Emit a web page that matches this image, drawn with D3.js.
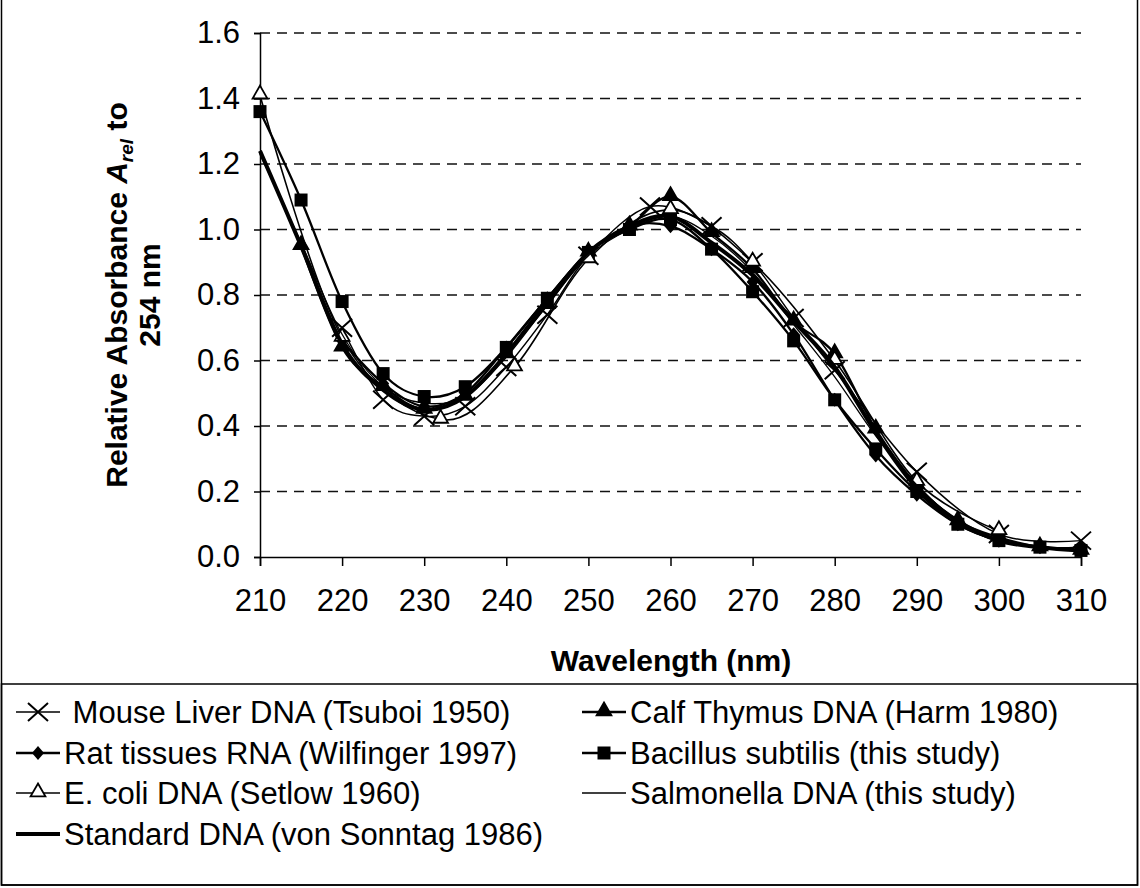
<!DOCTYPE html>
<html>
<head>
<meta charset="utf-8">
<script src="https://cdn.jsdelivr.net/npm/d3@7"></script>
<style>
body { margin: 0; background: #fff; }
text { font-family: "Liberation Sans", Arial, sans-serif; fill: #000; }
.tick-lab { font-size: 31px; }
.title { font-size: 30px; font-weight: bold; }
.leg { font-size: 31px; }
</style>
</head>
<body>
<div id="c"></div>
<script>
// wavelength ticks and y ticks
var x_ticks = [210, 220, 230, 240, 250, 260, 270, 280, 290, 300, 310];
var y_ticks = [0, 0.2, 0.4, 0.6, 0.8, 1.0, 1.2, 1.4, 1.6];

var wl = [210, 215, 220, 225, 230, 235, 240, 245, 250, 255, 260, 265, 270, 275, 280, 285, 290, 295, 300, 305, 310];

var mouse_wl = [220, 225, 230, 235, 240, 245, 250, 257.5, 265, 270, 275, 280, 290, 300, 310];
var mouse_val = [0.70, 0.48, 0.43, 0.46, 0.58, 0.74, 0.92, 1.07, 1.01, 0.90, 0.73, 0.57, 0.26, 0.07, 0.05];

var calf_wl = [215, 220, 225, 230, 235, 240, 245, 250, 255, 260, 265, 270, 275, 280, 285, 290, 295, 300, 305, 310];
var calf_val = [0.95, 0.64, 0.52, 0.45, 0.49, 0.62, 0.77, 0.93, 1.01, 1.10, 0.99, 0.88, 0.72, 0.62, 0.39, 0.22, 0.11, 0.06, 0.03, 0.02];

var rat_wl = [220, 225, 230, 235, 240, 245, 250, 255, 260, 265, 270, 275, 280, 285, 290, 295, 300, 305, 310];
var rat_val = [0.66, 0.53, 0.46, 0.50, 0.64, 0.79, 0.93, 1.01, 1.01, 0.94, 0.84, 0.68, 0.48, 0.31, 0.19, 0.10, 0.05, 0.03, 0.02];

var bac_val = [1.36, 1.09, 0.78, 0.56, 0.49, 0.52, 0.64, 0.79, 0.93, 1.00, 1.03, 0.94, 0.81, 0.66, 0.48, 0.33, 0.20, 0.10, 0.05, 0.03, 0.02];

var ecoli_wl = [210, 220, 232, 241, 250, 260, 270, 280, 290, 300];
var ecoli_val = [1.41, 0.67, 0.42, 0.58, 0.91, 1.06, 0.90, 0.60, 0.23, 0.08];

var salm_val = [1.23, 0.96, 0.68, 0.52, 0.47, 0.49, 0.61, 0.77, 0.92, 1.00, 1.04, 0.98, 0.87, 0.71, 0.55, 0.37, 0.22, 0.11, 0.05, 0.03, 0.03];
var std_val = [1.24, 0.95, 0.65, 0.51, 0.45, 0.49, 0.62, 0.78, 0.93, 1.01, 1.04, 0.96, 0.86, 0.72, 0.58, 0.38, 0.21, 0.11, 0.05, 0.03, 0.02];

var series_names = [
	" Mouse Liver DNA (Tsuboi 1950)",
	"Calf Thymus DNA (Harm 1980)",
	"Rat tissues RNA (Wilfinger 1997)",
	"Bacillus subtilis (this study)",
	"E. coli DNA (Setlow 1960)",
	"Salmonella DNA (this study)",
	"Standard DNA (von Sonntag 1986)"
];

function zip(xs, ys) {
	return xs.map(function(x, i) { return {w: x, v: ys[i]}; });
}

var series = [
	{name: series_names[0], pts: zip(mouse_wl, mouse_val), mark: 'x', sw: 1.5},
	{name: series_names[1], pts: zip(calf_wl, calf_val), mark: 'tri', sw: 2.3},
	{name: series_names[2], pts: zip(rat_wl, rat_val), mark: 'dia', sw: 2.3},
	{name: series_names[3], pts: zip(wl, bac_val), mark: 'sq', sw: 2.3},
	{name: series_names[4], pts: zip(ecoli_wl, ecoli_val), mark: 'otri', sw: 1.6},
	{name: series_names[5], pts: zip(wl, salm_val), mark: 'none', sw: 1.3},
	{name: series_names[6], pts: zip(wl, std_val), mark: 'none', sw: 4}
];

var width = 1140;
var height = 888;

var svg = d3.select("#c").append("svg")
	.attr("width", width)
	.attr("height", height);

var x_scale = d3.scaleLinear()
	.domain([210, 310])
	.range([260, 1081]);

var y_scale = d3.scaleLinear()
	.domain([0, 1.6])
	.range([557, 33]);

// outer frame + legend box
svg.append("rect")
	.attr("x", 1.5).attr("y", -5)
	.attr("width", width - 4).attr("height", 890)
	.attr("fill", "none").attr("stroke", "#000").attr("stroke-width", 1.5);

svg.append("rect")
	.attr("x", 1.5).attr("y", 684)
	.attr("width", width - 4).attr("height", 201)
	.attr("fill", "none").attr("stroke", "#000").attr("stroke-width", 1.5);

// gridlines
svg.append("g")
	.selectAll("line")
	.data(y_ticks.slice(1))
	.enter()
	.append("line")
	.attr("x1", 260).attr("x2", 1081)
	.attr("y1", function(d) { return y_scale(d); })
	.attr("y2", function(d) { return y_scale(d); })
	.attr("stroke", "#111")
	.attr("stroke-width", 1.5)
	.attr("stroke-dasharray", "10,7");

// axes
var y_axis = svg.append("g")
	.attr("transform", "translate(260,0)")
	.call(d3.axisLeft(y_scale).tickValues(y_ticks).tickSize(6).tickPadding(14).tickFormat(d3.format(".1f")));

var x_axis = svg.append("g")
	.attr("transform", "translate(0,557)")
	.call(d3.axisBottom(x_scale).tickValues(x_ticks).tickSize(9).tickPadding(23).tickFormat(d3.format("d")));

[y_axis, x_axis].forEach(function(a) {
	a.attr("font-size", null).attr("font-family", null);
	a.select(".domain").attr("stroke", "#000").attr("stroke-width", 1.5);
	a.selectAll(".tick line").attr("stroke", "#000").attr("stroke-width", 1.5);
	a.selectAll(".tick text")
		.attr("class", "tick-lab")
		.attr("fill", "#000");
});

// titles
svg.append("text")
	.attr("class", "title")
	.attr("x", 671).attr("y", 671)
	.attr("text-anchor", "middle")
	.text("Wavelength (nm)");

var yt = svg.append("text")
	.attr("class", "title")
	.attr("font-size", "28px")
	.attr("transform", "translate(127,295) rotate(-90)")
	.attr("text-anchor", "middle");
yt.append("tspan").text("Relative Absorbance ");
yt.append("tspan").attr("font-style", "italic").text("A");
yt.append("tspan").attr("font-style", "italic").attr("font-size", "19px").attr("dy", 6).text("rel");
yt.append("tspan").attr("dy", -6).text(" to");

svg.append("text")
	.attr("class", "title")
	.attr("font-size", "28px")
	.attr("transform", "translate(160,295) rotate(-90)")
	.attr("text-anchor", "middle")
	.text("254 nm");

// markers
function draw_mark(g, type, cx, cy) {
	if (type == 'x') {
		g.append("path")
			.attr("d", "M" + (cx - 10) + "," + (cy - 9) + "L" + (cx + 10) + "," + (cy + 9) +
				"M" + (cx - 10) + "," + (cy + 9) + "L" + (cx + 10) + "," + (cy - 9))
			.attr("stroke", "#000").attr("stroke-width", 2).attr("fill", "none");
	} else if (type == 'tri' || type == 'otri') {
		g.append("path")
			.attr("d", d3.symbol().type(d3.symbolTriangle).size(95)())
			.attr("transform", "translate(" + cx + "," + (cy - 1) + ")")
			.attr("fill", type == 'tri' ? "#000" : "#fff")
			.attr("stroke", "#000").attr("stroke-width", 1.8);
	} else if (type == 'dia') {
		g.append("path")
			.attr("d", "M" + cx + "," + (cy - 7) + "L" + (cx + 6) + "," + cy + "L" + cx + "," + (cy + 7) + "L" + (cx - 6) + "," + cy + "Z")
			.attr("fill", "#000");
	} else if (type == 'sq') {
		g.append("rect")
			.attr("x", cx - 6.5).attr("y", cy - 6.5)
			.attr("width", 13).attr("height", 13)
			.attr("fill", "#000");
	}
}

var line = d3.line()
	.x(function(d) { return x_scale(d.w); })
	.y(function(d) { return y_scale(d.v); })
	.curve(d3.curveCatmullRom.alpha(0));

var plot = svg.append("g");

series.forEach(function(s) {
	var g = plot.append("g").attr("class", "word-group");
	g.append("path")
		.datum(s.pts)
		.attr("d", line)
		.attr("fill", "none")
		.attr("stroke", "#000")
		.attr("stroke-width", s.sw);
	s.pts.forEach(function(p) {
		draw_mark(g, s.mark, x_scale(p.w), y_scale(p.v));
	});
});

// legend
var leg_x = [16, 582];
var leg_y = [712, 753, 793, 834];
var order = [[0, 0, 0], [1, 1, 0], [2, 0, 1], [3, 1, 1], [4, 0, 2], [5, 1, 2], [6, 0, 3]];

order.forEach(function(o) {
	var s = series[o[0]];
	var lx = leg_x[o[1]], ly = leg_y[o[2]];
	var lg = svg.append("g");
	lg.append("line")
		.attr("x1", lx).attr("x2", lx + 44)
		.attr("y1", ly).attr("y2", ly)
		.attr("stroke", "#000")
		.attr("stroke-width", s.sw);
	draw_mark(lg, s.mark, lx + 22, ly);
	lg.append("text")
		.attr("class", "leg")
		.attr("x", lx + 48).attr("y", ly + 11)
		.style("white-space", "pre")
		.text(s.name);
});
</script>
</body>
</html>
